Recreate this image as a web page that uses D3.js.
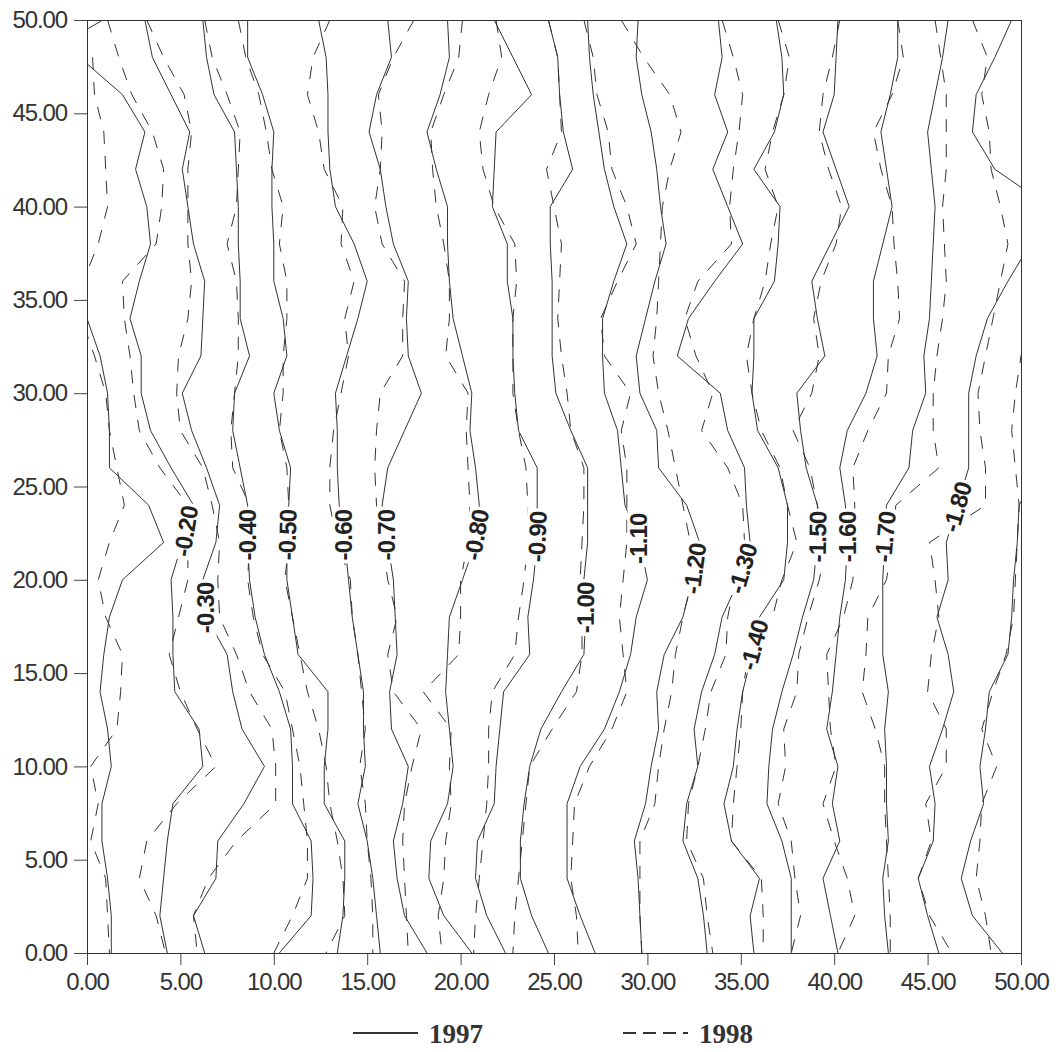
<!DOCTYPE html>
<html>
<head>
<meta charset="utf-8">
<script src="https://cdn.jsdelivr.net/npm/d3@7"></script>
<style>
  body { margin: 0; background: #fff; }
  .axis text { font-family: "Liberation Sans", Arial, sans-serif; font-size: 24px; letter-spacing: -1.1px; fill: #333; }
  .axis line, .axis path { stroke: #444; }
  .clabel { font-family: "Liberation Sans", Arial, sans-serif; font-size: 24px; font-weight: bold; letter-spacing: -0.8px; fill: #222; }
  .legend text { font-family: "Liberation Serif", "Times New Roman", serif; font-size: 27px; font-weight: bold; fill: #333; }
</style>
</head>
<body>
<div id="chart"></div>
<script>
// rows the contour vertices sit on, top to bottom
const yLevels = [50, 48, 46, 44, 42, 40, 38, 36, 34, 32, 30, 28, 26, 24, 22, 20, 18, 16, 14, 12, 10, 8, 6, 4, 2, 0];
const tickValues = [0, 5, 10, 15, 20, 25, 30, 35, 40, 45, 50];
const seriesNames = ["1997", "1998"];

// 1997 (solid) - x of each contour at every row of yLevels
const levels1997 = [-0.1, -0.2, -0.3, -0.4, -0.5, -0.6, -0.7, -0.8, -0.9, -1.0,
                    -1.1, -1.2, -1.3, -1.4, -1.5, -1.6, -1.7, -1.8, -1.9, -1.8];
const lines1997 = [
  [0.85, -2.6, -3, -3, -3, -3, -3, -3, 0.0, 0.7, 1.1, 1.2, 1.2, 3.3, 4.1, 1.9, 1.2, 0.9, 0.7, 1.1, 1.3, 0.8, 0.8, 1.1, 1.3, 1.3],
  [-2.8, -0.4, 1.9, 3.1, 2.6, 3.2, 3.4, 2.8, 2.3, 2.9, 2.9, 3.4, 4.5, 5.7, 5.1, 4.5, 4.6, 4.6, 4.7, 6.0, 6.2, 4.6, 4.3, 4.1, 3.9, 4.3],
  [3.1, 3.5, 4.5, 5.5, 5.1, 5.4, 5.7, 6.3, 6.2, 6.1, 5.1, 5.6, 6.4, 7.1, 6.9, 6.2, 6.4, 7.5, 7.8, 8.3, 9.5, 8.4, 7.0, 6.9, 5.7, 6.3],
  [6.2, 6.4, 6.8, 7.9, 8.0, 8.1, 8.1, 8.2, 8.2, 8.7, 7.9, 7.8, 8.2, 8.6, 8.6, 8.7, 9.0, 9.5, 10.3, 10.9, 11.0, 11.0, 12.0, 12.1, 12.0, 10.3],
  [8.6, 8.6, 9.4, 10.0, 9.9, 9.9, 10.0, 10.0, 10.5, 10.7, 10.0, 10.3, 10.9, 10.8, 10.7, 10.7, 11.0, 11.3, 12.9, 12.9, 12.7, 12.7, 13.8, 13.8, 13.7, 13.4],
  [12.4, 12.8, 12.9, 12.9, 13.0, 13.3, 14.3, 15.0, 14.5, 13.9, 13.3, 13.4, 13.4, 13.5, 13.8, 14.0, 14.2, 14.5, 14.8, 14.8, 14.9, 14.5, 15.0, 15.3, 15.5, 15.7],
  [16.1, 16.3, 15.5, 15.1, 15.7, 16.0, 16.4, 17.2, 17.1, 17.2, 17.9, 17.0, 16.1, 15.8, 16.1, 16.4, 16.5, 16.6, 16.2, 16.3, 17.2, 16.9, 16.4, 16.6, 17.0, 18.2],
  [19.3, 19.4, 18.9, 18.2, 18.7, 19.3, 19.3, 19.4, 19.6, 20.1, 20.6, 20.5, 20.8, 21.0, 20.8, 20.1, 19.4, 19.3, 19.2, 19.4, 19.6, 19.3, 18.4, 18.3, 19.1, 20.6],
  [21.8, 22.8, 23.8, 21.9, 21.8, 21.7, 22.5, 22.5, 22.8, 22.8, 22.9, 23.1, 24.1, 24.1, 24.1, 23.9, 23.6, 23.7, 22.3, 22.1, 21.9, 21.8, 20.9, 20.8, 21.4, 22.4],
  [24.7, 25.2, 25.3, 25.5, 26.0, 24.8, 24.8, 24.9, 24.9, 24.9, 25.1, 25.9, 26.8, 26.8, 26.8, 26.6, 26.7, 26.6, 25.4, 24.3, 23.7, 23.4, 23.2, 23.2, 23.8, 24.7],
  [26.8, 26.9, 27.1, 27.4, 27.7, 28.2, 28.9, 28.2, 27.6, 27.6, 27.7, 28.4, 28.6, 28.8, 29.6, 30.0, 29.4, 29.1, 28.5, 27.7, 26.4, 25.7, 25.7, 25.7, 26.4, 27.2],
  [29.5, 29.4, 29.7, 30.2, 30.5, 30.7, 31.0, 30.4, 29.9, 29.4, 29.6, 30.5, 30.6, 32.1, 32.8, 32.4, 31.9, 30.9, 30.5, 30.6, 30.2, 29.9, 29.3, 29.5, 29.6, 29.7],
  [33.8, 34.0, 33.6, 34.3, 33.5, 34.3, 35.1, 33.6, 32.2, 31.6, 33.9, 34.3, 35.2, 35.3, 35.5, 34.9, 34.0, 33.6, 32.9, 32.5, 32.7, 32.1, 31.9, 32.7, 33.0, 33.2],
  [36.9, 37.2, 37.3, 36.8, 35.7, 37.1, 37.0, 36.8, 35.7, 35.7, 35.6, 35.9, 37.0, 37.5, 37.5, 37.3, 36.0, 35.6, 35.1, 34.8, 34.6, 34.1, 34.5, 36.0, 35.5, 35.7],
  [40.2, 40.1, 40.0, 39.4, 40.1, 40.8, 39.8, 38.8, 39.1, 39.5, 38.0, 38.2, 38.5, 39.1, 39.1, 38.9, 38.3, 37.8, 37.2, 36.7, 36.5, 36.4, 37.2, 37.7, 37.7, 37.7],
  [43.4, 43.4, 43.0, 42.5, 42.8, 43.1, 42.6, 42.1, 42.1, 42.3, 41.7, 40.7, 40.3, 40.6, 40.7, 40.6, 40.3, 40.1, 39.9, 39.6, 40.2, 39.9, 40.3, 39.4, 39.8, 40.2],
  [46.1, 45.8, 45.4, 45.0, 45.2, 45.4, 45.3, 45.2, 45.1, 44.8, 44.9, 44.2, 44.0, 42.8, 42.7, 42.6, 42.6, 42.6, 42.9, 42.7, 42.8, 42.8, 42.9, 42.6, 42.7, 42.9],
  [53, 53, 53, 53, 53, 52, 50.5, 49.3, 48.2, 47.6, 47.2, 47.2, 47.2, 46.6, 46.0, 46.1, 45.5, 46.1, 46.4, 45.8, 45.1, 45.4, 45.3, 44.5, 45.0, 45.6],
  [53, 53, 53, 53, 53, 53, 53, 53, 53, 53, 53, 53, 51.0, 49.9, 49.8, 49.6, 49.5, 49.3, 48.3, 48.1, 47.8, 48.0, 47.3, 46.8, 47.4, 49.0],
  [49.5, 48.6, 47.6, 47.4, 48.6, 51.5, 53, 53, 53, 53, 53, 53, 53, 53, 53, 53, 53, 53, 53, 53, 53, 53, 53, 53, 53, 53]
];
// y where each 1997 line carries its inline label (null = none)
const labelY1997 = [null, 22.6, 18.5, 22.4, 22.4, 22.4, 22.4, 22.4, 22.3, 18.5,
                    22.2, 20.6, 20.6, 16.5, 22.3, 22.3, 22.3, 23.9, null, null];

// 1998 (dashed)
const levels1998 = [-0.1, -0.2, -0.3, -0.4, -0.5, -0.6, -0.7, -0.8, -0.9, -1.0,
                    -1.1, -1.2, -1.3, -1.4, -1.5, -1.6, -1.7, -1.8, -1.9];
const lines1998 = [
  [-1.5, 0.3, 0.4, 0.9, 1.0, 1.1, 0.6, -0.2, -0.3, 0.4, 1.0, 1.2, 1.6, 2.0, 1.2, 0.6, 1.0, 1.9, 1.8, 1.6, 0.2, 0.6, 0.2, 1.0, 1.1, 1.2],
  [1.1, 1.7, 2.4, 3.5, 4.1, 4.0, 3.7, 1.9, 2.0, 2.3, 2.5, 2.8, 3.9, 5.4, 5.4, 5.4, 4.9, 4.4, 5.0, 5.9, 6.9, 4.8, 3.2, 2.8, 3.7, 4.2],
  [3.2, 4.1, 5.2, 5.6, 5.4, 5.4, 5.4, 5.6, 5.4, 4.9, 4.8, 5.0, 6.2, 6.7, 7.1, 7.0, 7.1, 8.0, 8.7, 9.9, 10.1, 10.1, 8.0, 6.5, 5.7, 5.9],
  [6.3, 6.7, 7.5, 8.2, 8.1, 8.0, 7.5, 8.0, 8.1, 8.1, 7.9, 7.7, 7.8, 8.7, 8.7, 8.6, 8.9, 9.4, 10.6, 11.0, 11.4, 11.6, 11.8, 11.8, 11.0, 10.0],
  [8.1, 8.5, 9.2, 9.6, 9.9, 10.5, 10.3, 10.7, 10.7, 10.5, 10.5, 10.3, 10.7, 10.8, 10.8, 10.6, 11.0, 11.4, 11.8, 12.4, 12.8, 13.0, 13.4, 13.7, 13.8, 12.8],
  [13.0, 12.1, 11.8, 12.4, 12.7, 13.7, 13.6, 14.3, 13.8, 14.0, 13.6, 13.2, 13.0, 13.0, 13.4, 14.1, 14.2, 14.5, 14.7, 14.9, 14.6, 14.9, 15.0, 15.2, 15.3, 15.3],
  [17.5, 16.4, 15.6, 15.8, 15.7, 15.4, 15.8, 17.0, 16.9, 16.9, 15.7, 15.5, 15.4, 15.5, 15.8, 16.1, 16.6, 16.1, 16.4, 17.9, 17.4, 17.0, 16.9, 17.0, 17.1, 17.2],
  [20.1, 19.9, 19.1, 18.4, 18.5, 18.7, 19.1, 19.4, 19.4, 19.2, 20.4, 20.3, 20.4, 20.5, 20.4, 20.0, 20.0, 19.9, 18.0, 19.5, 19.4, 19.5, 19.2, 19.1, 18.8, 19.0],
  [21.9, 22.2, 21.5, 21.0, 21.2, 21.8, 22.9, 23.0, 22.8, 22.8, 22.8, 23.1, 23.5, 23.6, 23.6, 23.4, 23.1, 22.9, 21.7, 21.5, 21.5, 21.4, 21.2, 21.0, 20.8, 20.7],
  [24.7, 25.2, 25.3, 25.4, 24.6, 25.0, 25.4, 25.3, 25.2, 25.4, 25.7, 25.9, 26.6, 26.6, 26.5, 26.4, 26.5, 26.5, 26.2, 24.9, 23.7, 23.5, 23.3, 23.1, 22.9, 22.8],
  [26.6, 27.1, 27.3, 27.9, 28.1, 28.9, 29.4, 28.4, 27.5, 27.7, 29.1, 28.6, 28.9, 28.9, 28.9, 28.7, 28.5, 28.7, 28.9, 28.1, 26.9, 26.1, 26.0, 25.9, 26.2, 26.3],
  [28.6, 29.8, 31.2, 31.8, 31.2, 30.8, 30.7, 30.6, 30.5, 30.3, 30.6, 31.1, 31.5, 31.9, 32.3, 32.4, 31.9, 31.5, 31.3, 30.9, 30.6, 30.4, 29.6, 29.6, 29.6, 29.7],
  [34.0, 34.6, 35.1, 34.9, 34.6, 34.4, 34.5, 32.7, 32.0, 32.6, 33.5, 32.9, 34.3, 35.1, 35.2, 34.7, 34.3, 34.2, 33.4, 33.1, 32.7, 32.2, 32.1, 33.0, 33.2, 33.5],
  [37.0, 37.6, 37.3, 36.7, 36.3, 37.0, 36.6, 36.3, 35.7, 35.3, 35.6, 36.1, 37.1, 37.5, 38.0, 37.2, 36.7, 35.4, 35.1, 35.0, 34.8, 34.6, 34.5, 36.1, 36.2, 36.2],
  [40.3, 39.9, 39.4, 39.2, 39.7, 40.4, 40.1, 39.3, 38.9, 39.2, 38.8, 37.8, 38.7, 39.1, 39.6, 39.2, 38.6, 38.1, 38.0, 37.3, 37.4, 37.0, 37.7, 37.9, 38.2, 37.7],
  [43.4, 43.7, 43.1, 42.1, 42.5, 43.1, 43.2, 43.4, 43.5, 42.9, 42.8, 41.8, 41.0, 41.1, 41.1, 41.0, 40.5, 39.6, 39.7, 39.8, 40.1, 39.4, 40.0, 40.7, 41.1, 40.2],
  [45.4, 45.7, 46.0, 46.0, 46.0, 45.8, 45.9, 46.0, 45.8, 45.5, 45.3, 45.3, 45.6, 43.3, 43.1, 42.8, 41.8, 41.7, 41.5, 42.2, 42.7, 42.7, 42.8, 42.9, 43.0, 43.0],
  [47.4, 48.2, 47.9, 48.3, 48.4, 48.9, 49.3, 48.9, 48.5, 48.1, 47.7, 47.8, 48.1, 48.1, 45.1, 45.4, 45.6, 45.2, 45.0, 46.0, 46.0, 44.9, 45.2, 44.5, 45.1, 46.3],
  [53, 53, 53, 53, 53, 53, 53, 53, 51, 50.0, 49.7, 49.5, 49.7, 49.9, 49.8, 49.7, 49.6, 49.2, 48.5, 47.9, 48.7, 47.9, 47.8, 47.6, 48.1, 48.4]
];

class ContourChart {

    constructor() {
        this.width = 1056;
        this.height = 1052;
        this.margin = {top: 20, left: 87, right: 35, bottom: 99};
        this.innerW = this.width - this.margin.left - this.margin.right;   // 934
        this.innerH = this.height - this.margin.top - this.margin.bottom;  // 933
        this.svg = null;
        this.plot = null;
        this.x = null;
        this.y = null;
    }

    setup() {
        const root = d3.select("#chart")
            .append("svg")
            .attr("width", this.width)
            .attr("height", this.height);

        this.svg = root;
        this.plot = root.append("g")
            .attr("transform", `translate(${this.margin.left},${this.margin.top})`);

        this.x = d3.scaleLinear().domain([0, 50]).range([0, this.innerW]);
        this.y = d3.scaleLinear().domain([0, 50]).range([this.innerH, 0]);

        this.plot.append("clipPath")
            .attr("id", "plotclip")
            .append("rect")
            .attr("width", this.innerW)
            .attr("height", this.innerH);

        const fmt = d3.format(".2f");

        this.plot.append("g")
            .attr("class", "axis")
            .attr("transform", `translate(0,${this.innerH})`)
            .call(d3.axisBottom(this.x).tickValues(tickValues).tickFormat(fmt).tickSize(12).tickPadding(8))
            .call(g => g.select(".domain").remove());

        this.plot.append("g")
            .attr("class", "axis")
            .call(d3.axisLeft(this.y).tickValues(tickValues).tickFormat(fmt).tickSize(13).tickPadding(7))
            .call(g => g.select(".domain").remove());
    }

    drawLines(lines, dashed) {
        const that = this;
        const line = d3.line()
            .x(d => that.x(d))
            .y((d, i) => that.y(yLevels[i]));

        this.plot.append("g")
            .attr("clip-path", "url(#plotclip)")
            .selectAll("path")
            .data(lines)
            .enter().append("path")
            .attr("d", line)
            .attr("fill", "none")
            .attr("stroke", "#333")
            .attr("stroke-width", 1)
            .attr("stroke-dasharray", dashed ? "13,12" : null);
    }

    // x of a contour at a given y, linear between rows
    xAt(vals, v) {
        for (let i = 0; i < yLevels.length - 1; i++) {
            const a = yLevels[i], b = yLevels[i + 1];
            if (v <= a && v >= b) {
                const t = (a - v) / (a - b);
                return vals[i] + (vals[i + 1] - vals[i]) * t;
            }
        }
        return vals[vals.length - 1];
    }

    drawLabels() {
        const that = this;
        // plain hyphen for the minus sign, as in the original
        const fmt = d3.formatLocale({decimal: ".", thousands: ",", grouping: [3], currency: ["", ""], minus: "-"}).format(".2f");
        const g = this.plot.append("g");

        lines1997.forEach(function (vals, i) {
            const v = labelY1997[i];
            if (v == null) return;
            const px = that.x(that.xAt(vals, v));
            const py = that.y(v);
            const lo = [that.x(that.xAt(vals, v - 2)), that.y(v - 2)];
            const hi = [that.x(that.xAt(vals, v + 2)), that.y(v + 2)];
            let angle = Math.atan2(hi[1] - lo[1], hi[0] - lo[0]) * 180 / Math.PI;
            angle = Math.max(-90, Math.min(-65, angle));

            const lg = g.append("g")
                .attr("transform", `translate(${px},${py}) rotate(${angle})`);
            const t = lg.append("text")
                .attr("class", "clabel")
                .attr("text-anchor", "middle")
                .attr("dy", "0.36em")
                .text(fmt(levels1997[i]));
            const w = t.node().getComputedTextLength();
            lg.insert("rect", "text")
                .attr("x", -w / 2 - 3)
                .attr("y", -11)
                .attr("width", w + 6)
                .attr("height", 22)
                .attr("fill", "#fff");
        });
    }

    drawFrame() {
        this.plot.append("rect")
            .attr("x", 0.5)
            .attr("y", 0.5)
            .attr("width", this.innerW)
            .attr("height", this.innerH)
            .attr("fill", "none")
            .attr("stroke", "#333")
            .attr("stroke-width", 1);
    }

    drawLegend() {
        const lg = this.svg.append("g").attr("class", "legend");
        const items = [
            {name: seriesNames[0], x: 353, dash: null},
            {name: seriesNames[1], x: 623, dash: "13,7"}
        ];
        items.forEach(function (d) {
            lg.append("line")
                .attr("x1", d.x).attr("x2", d.x + 65)
                .attr("y1", 1033).attr("y2", 1033)
                .attr("stroke", "#333")
                .attr("stroke-width", 2)
                .attr("stroke-dasharray", d.dash);
            lg.append("text")
                .attr("x", d.x + 76)
                .attr("y", 1043)
                .text(d.name);
        });
    }
}

const chart = new ContourChart();
chart.setup();
chart.drawLines(lines1997, false);
chart.drawLines(lines1998, true);
chart.drawLabels();
chart.drawFrame();
chart.drawLegend();
</script>
</body>
</html>
